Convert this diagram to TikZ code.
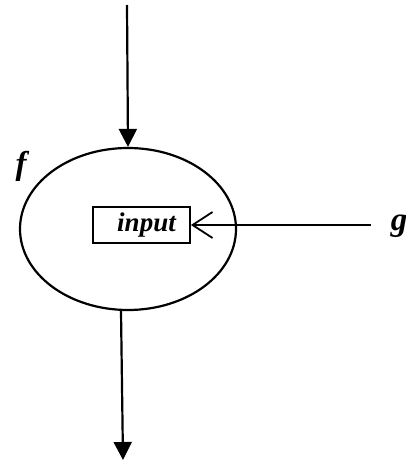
\documentclass[tikz,border=0pt]{standalone}
\usepackage{fontspec}
\setmainfont{Liberation Serif}
\usetikzlibrary{arrows.meta}
\usetikzlibrary{shapes.geometric}
\tikzset{tip/.style = {-{Triangle[length=18pt,width=18pt]}, line width=2.2pt},
         barb/.style = {-{Straight Barb[length=20pt,width=26pt,line width=1.8pt]}, line width=1.8pt},
         lbl/.style = {font=\fontsize{33}{36}\selectfont\bfseries\itshape, inner sep=0pt}}

\begin{document}
\begin{tikzpicture}[x=1pt, y=-1pt]
    \useasboundingbox (0, 0) rectangle (406, 463);

    \node [ellipse, draw, line width=2.2pt, minimum width=216pt, minimum height=162pt, inner sep=0pt] (proc) at (128, 229) {};
    \node [rectangle, draw, line width=1.8pt, minimum width=97pt, minimum height=36pt, inner sep=0pt,
           font=\fontsize{27}{30}\selectfont\bfseries\itshape] (input) at (141.5, 225) {\hspace{10pt}input};
    \node [lbl] (f) at (21, 166) {f};
    \node [lbl] (g) at (399, 226) {g};

    \coordinate (in) at (127, 5);
    \coordinate (out) at (123, 460);

    \draw [tip] (in) -- (proc.north);
    \draw [tip] (proc.south -| 121, 0) -- (out);
    \draw [barb, shorten <=20pt] (g.west |- input.east) -- (input.east);
\end{tikzpicture}
\end{document}
